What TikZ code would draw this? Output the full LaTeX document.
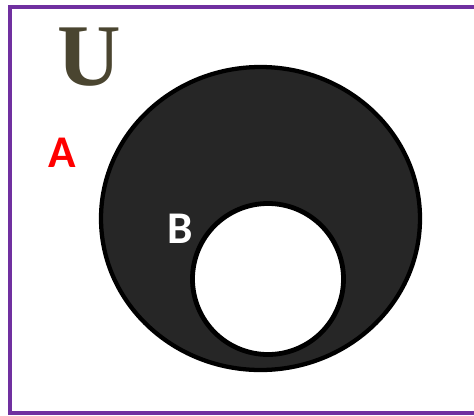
\documentclass[tikz,border=0pt]{standalone}
\usepackage{fontspec}
\setmainfont{Carlito}
\newfontfamily\serifU{Liberation Serif}
\definecolor{borderpurple}{HTML}{7030A0}
\definecolor{darkfill}{HTML}{262626}
\definecolor{olive}{HTML}{4A4530}
\tikzset{
  setlabel/.style={inner sep=0pt, anchor=base, font=\bfseries\fontsize{34}{34}\selectfont},
  setcircle/.style={draw=black, line width=3.2pt}
}
\begin{document}
\begin{tikzpicture}[x=0.75pt,y=-0.75pt]
\useasboundingbox (0,0) rectangle (474,415);
\clip (0,0) rectangle (474,415);
\draw[borderpurple, line width=3pt] (9.5,7) rectangle (490,413);
\draw[setcircle, fill=darkfill] (260.5,218.5) ellipse [x radius=159.5, y radius=151.5];
\draw[setcircle, line width=3.6pt, fill=white] (268,279) circle [radius=75.5];
\node[inner sep=0pt, anchor=base, text=olive, font=\serifU\bfseries\fontsize{66}{66}\selectfont] (U) at (89.5,85) {U};
\node[setlabel, text=red] (A) at (62,167) {A};
\node[setlabel, text=white] (B) at (180,243) {B};
\end{tikzpicture}
\end{document}
